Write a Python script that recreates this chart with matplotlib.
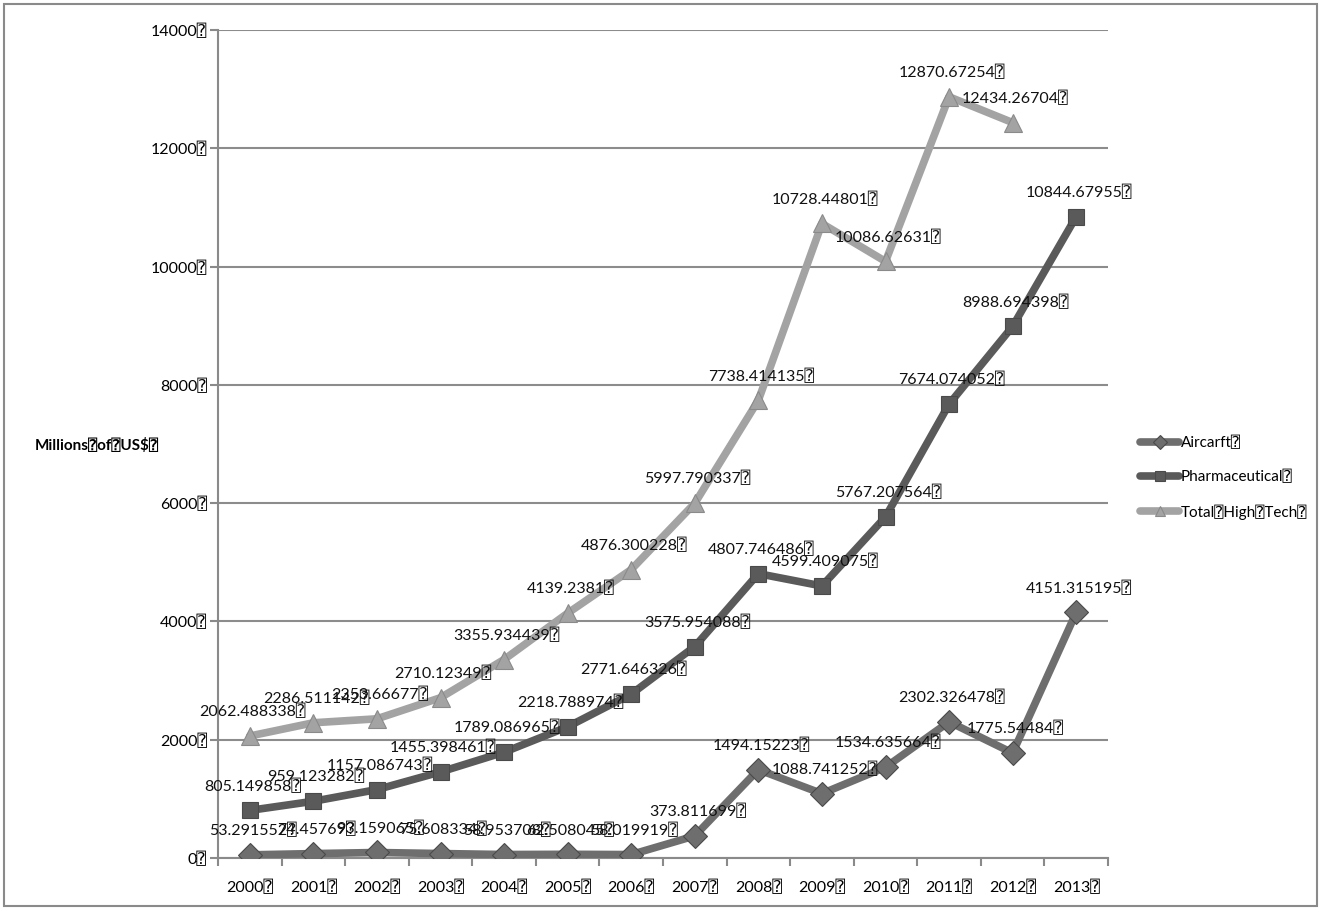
import matplotlib
matplotlib.use("Agg")
import matplotlib.pyplot as plt
from matplotlib.patches import Rectangle

plt.rcParams['font.family'] = ['Lato', 'DejaVu Sans', 'DejaVu Sans Mono']

BOX = '\u2370'

years = ['2000', '2001', '2002', '2003', '2004', '2005', '2006',
         '2007', '2008', '2009', '2010', '2011', '2012', '2013']

aircraft = [53.291552, 74.45769, 93.159065, 75.608334, 58.953708, 62.508045,
            58.019919, 373.811699, 1494.15223, 1088.741252, 1534.635664,
            2302.326478, 1775.54484, 4151.315195]
aircraft_lbl = ['53.291552', '74.45769', '93.159065', '75.608334', '58.953708',
                '62.508045', '58.019919', '373.811699', '1494.15223',
                '1088.741252', '1534.635664', '2302.326478', '1775.54484',
                '4151.315195']

pharma = [805.149858, 959.123282, 1157.086743, 1455.398461, 1789.086965,
          2218.788974, 2771.646326, 3575.954088, 4807.746486, 4599.409075,
          5767.207564, 7674.074052, 8988.694398, 10844.67955]
pharma_lbl = ['805.149858', '959.123282', '1157.086743', '1455.398461',
              '1789.086965', '2218.788974', '2771.646326', '3575.954088',
              '4807.746486', '4599.409075', '5767.207564', '7674.074052',
              '8988.694398', '10844.67955']

total = [2062.488338, 2286.511142, 2353.66677, 2710.12349, 3355.934439,
         4139.2381, 4876.300228, 5997.790337, 7738.414135, 10728.44801,
         10086.62631, 12870.67254, 12434.26704]
total_lbl = ['2062.488338', '2286.511142', '2353.66677', '2710.12349',
             '3355.934439', '4139.2381', '4876.300228', '5997.790337',
             '7738.414135', '10728.44801', '10086.62631', '12870.67254',
             '12434.26704']

yticks = [0, 2000, 4000, 6000, 8000, 10000, 12000, 14000]

fig = plt.figure(figsize=(13.21, 9.08), dpi=100)
ax = fig.add_axes([218/1321, 1-858/908, 890/1321, 828/908])

# outer frame
fig.patches.append(Rectangle((4/1321, 2/908), 1313/1321, 902/908,
                             transform=fig.transFigure, fill=False,
                             edgecolor='#8a8a8a', linewidth=1.5))

x = list(range(len(years)))
series = [
    ('Aircarft', aircraft, aircraft_lbl, '#6e6e6e', 'D', 12),
    ('Pharmaceutical', pharma, pharma_lbl, '#5a5a5a', 's', 12),
    ('Total High Tech', total, total_lbl, '#a3a3a3', '^', 13),
]
handles = []
for name, vals, lbls, col, mk, ms in series:
    xs = x[:len(vals)]
    h, = ax.plot(xs, vals, color=col, linewidth=5.5, marker=mk, markersize=ms,
                 markerfacecolor=col, markeredgecolor='#4a4a4a' if mk != '^' else '#8a8a8a',
                 markeredgewidth=0.8, solid_capstyle='round', zorder=3,
                 label=name.replace(' ', BOX) + BOX)
    handles.append(h)
    for xi, v, t in zip(xs, vals, lbls):
        ax.annotate(t + BOX, (xi, v), xytext=(2, 12), textcoords='offset points',
                    ha='center', va='bottom', fontsize=11.5, color='#111111', zorder=4)

ax.set_xlim(-0.5, 13.5)
ax.set_ylim(0, 14000)
ax.set_yticks(yticks)
ax.set_yticklabels([str(v) + BOX for v in yticks], fontsize=11.5)
ax.set_xticks(x)
ax.set_xticklabels([y + BOX for y in years], fontsize=11.5)
ax.set_xticks([i - 0.5 for i in range(15)], minor=True)
ax.tick_params(axis='x', which='major', length=0, pad=16)
ax.tick_params(axis='x', which='minor', length=6, color='#8a8a8a', width=1.5)
ax.tick_params(axis='y', length=6, color='#8a8a8a', width=1.5, pad=2)
ax.grid(axis='y', color='#8c8c8c', linewidth=1.5, zorder=1)
ax.set_axisbelow(True)
for s in ['top', 'right']:
    ax.spines[s].set_visible(False)
for s in ['left', 'bottom']:
    ax.spines[s].set_color('#8a8a8a')
    ax.spines[s].set_linewidth(1.5)

fig.text(35/1321, 1-446/908, 'Millions' + BOX + 'of' + BOX + 'US$' + BOX,
         fontsize=11, fontweight='bold', va='center', ha='left')

fig.legend(handles=handles, loc='center left', bbox_to_anchor=(1126/1321, 1-478/908),
           frameon=False, fontsize=11, labelspacing=1.3, handlelength=2.6,
           handletextpad=0.1, markerscale=0.6)

fig.savefig('out.png', dpi=100, facecolor='white')
